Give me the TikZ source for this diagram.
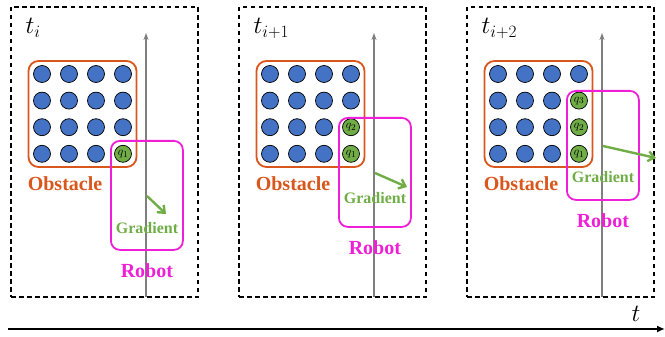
\documentclass[tikz,border=0pt]{standalone}
\usepackage{fontspec}
\usepackage{amsmath}
\usepackage{tikz}
\usetikzlibrary{positioning, arrows.meta}
\newfontfamily\labelfont{Liberation Serif}

\definecolor{obsorange}{HTML}{D9561C}
\definecolor{robmagenta}{HTML}{EE1FD6}
\definecolor{gradgreen}{HTML}{70AD47}
\definecolor{dotblue}{HTML}{4472C4}
\definecolor{axisgray}{HTML}{7F7F7F}

\tikzset{
  frame/.style={draw, dash pattern=on 4.5pt off 3.5pt, line width=1.1pt, minimum width=187pt, minimum height=290pt, inner sep=0pt},
  obsbox/.style={draw=obsorange, line width=1.8pt, rounded corners=10pt, minimum width=108pt, minimum height=106pt, inner sep=0pt},
  robbox/.style={draw=robmagenta, line width=1.8pt, rounded corners=9pt, minimum width=72pt, minimum height=109pt, inner sep=0pt},
  dot/.style={circle, draw=black, line width=0.7pt, fill=dotblue, minimum size=17pt, inner sep=0pt},
  qdot/.style={dot, fill=gradgreen, font=\fontsize{13}{13}\selectfont},
  obslabel/.style={text=obsorange, font=\labelfont\bfseries\fontsize{20}{22}\selectfont, inner sep=0pt},
  roblabel/.style={text=robmagenta, font=\labelfont\bfseries\fontsize{20}{22}\selectfont, inner sep=0pt},
  gradlabel/.style={text=gradgreen, font=\labelfont\bfseries\fontsize{16}{18}\selectfont, inner sep=0pt},
  gradarrow/.style={draw=gradgreen, line width=2.4pt, -{Straight Barb[length=6pt, width=10pt]}},
  timeline/.style={draw=axisgray, line width=1.2pt, -{Stealth[length=7pt, width=5pt]}},
  tlabel/.style={font=\fontsize{24}{26}\selectfont, inner sep=0pt}
}

\begin{document}
\begin{tikzpicture}[x=1pt, y=-1pt]
\useasboundingbox (0,0) rectangle (665,337);

% one panel per time step
\foreach \p/\dx/\ry/\gy/\ex/\ey/\tl in {1/0/140/228/19/18/{i}, 2/228/117/198/32/14/{i+1}, 3/456/90/177/53/12/{i+2}}{
  \node[frame] (frame\p) at (104.5+\dx,152) {};
  \node[tlabel, anchor=north west] (tl\p) at ([xshift=15pt, yshift=-12pt]frame\p.north west) {$t_{\tl}$};
  % time line of the robot
  \coordinate (ga\p) at (146+\dx,297);
  \coordinate (gb\p) at (146+\dx,33);
  \draw[timeline] (ga\p) -- (gb\p);
  % obstacle points
  \node[obsbox] (obs\p) at (82.5+\dx,114) {};
  \foreach \r in {1,...,4}{
    \foreach \c in {1,...,4}{
      \pgfmathtruncatemacro\isq{(\c==4)&&(\r>4-\p)}
      \pgfmathtruncatemacro\qi{5-\r}
      \ifnum\isq=1
        \node[qdot] (d\p-\r-\c) at (42+27*\c-27+\dx,74+26.6*\r-26.6) {$q_{\qi}$};
      \else
        \node[dot] (d\p-\r-\c) at (42+27*\c-27+\dx,74+26.6*\r-26.6) {};
      \fi
    }
  }
  \node[obslabel, anchor=north west] (ol\p) at ([yshift=-9pt]obs\p.south west) {Obstacle};
  % robot
  \node[robbox, anchor=north west] (rob\p) at (110+\dx,\ry) {};
  \node[roblabel, below=13pt of rob\p] (rl\p) {Robot};
  \node[gradlabel] (gl\p) at (147+\dx,\gy) {Gradient};
  \coordinate (gs\p) at (147+\dx,\ry+56);
  \coordinate (ge\p) at (147+\ex+\dx,\ry+56+\ey);
  \draw[gradarrow] (gs\p) -- (ge\p);
}

% time axis
\coordinate (ta) at (8,329);
\coordinate (tb) at (665,329);
\draw[line width=2pt, -{Latex[length=8pt, width=7pt]}] (ta) -- (tb);
\node[tlabel] (tt) at (636,314) {$t$};
\end{tikzpicture}
\end{document}
